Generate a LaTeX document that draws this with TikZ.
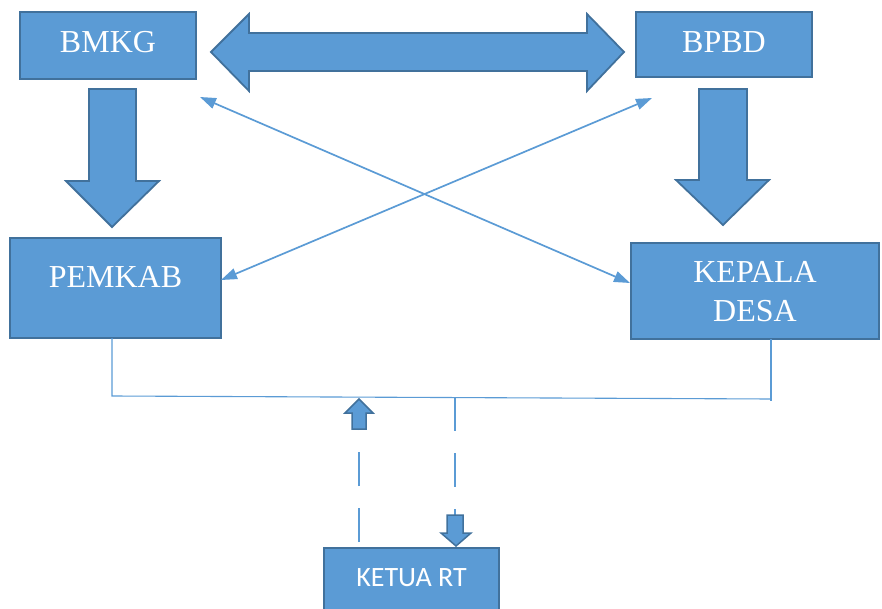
\documentclass[tikz,border=0pt]{standalone}
\usepackage{fontspec}
\setmainfont{Liberation Serif}
\newfontfamily\calib{Carlito}
\usetikzlibrary{arrows.meta}
\definecolor{bfill}{HTML}{5B9BD5}
\definecolor{bdraw}{HTML}{41719C}
\tikzset{
  box/.style={draw=bdraw, fill=bfill, line width=2pt, inner sep=0pt},
  lbl/.style={text=white, font=\fontsize{32}{38}\selectfont, inner sep=0pt, align=center},
  blk/.style={draw=bdraw, fill=bfill, line width=1.8pt, line join=miter},
  thin/.style={draw=bfill, line width=1.7pt, {Triangle[length=16pt,width=11pt]}-{Triangle[length=16pt,width=11pt]}},
  conn/.style={draw=bfill, line width=1.1pt},
  dashconn/.style={draw=bfill, line width=1.1pt, dash pattern=on 34pt off 22pt}
}
\begin{document}
\begin{tikzpicture}[x=1pt,y=-1pt]
\useasboundingbox (0,0) rectangle (882,609);
\clip (0,0) rectangle (882,609);
% boxes
\node[box, minimum width=176pt, minimum height=67pt] (bmkg) at (108,45.5) {};
\node[lbl] at (108,42) {BMKG};
\node[box, minimum width=176pt, minimum height=65pt] (bpbd) at (724,44.5) {};
\node[lbl] at (724,42) {BPBD};
\node[box, minimum width=211pt, minimum height=100pt] (pemkab) at (115.5,288) {};
\node[lbl] at (115.5,277) {PEMKAB};
\node[box, minimum width=248pt, minimum height=96pt] (kades) at (755,291) {};
\node[lbl] at (755,272) {KEPALA};
\node[lbl] at (755,311) {DESA};
\node[box, minimum width=175pt, minimum height=90pt] (ketua) at (411.5,593) {};
\node[text=white, inner sep=0pt, font=\calib\fontsize{28}{34}\selectfont] at (411.5,578) {KETUA RT};
% block arrows
\draw[blk] (211,52) -- (249,14) -- (249,33) -- (587,33) -- (587,14) -- (624,52) -- (587,91) -- (587,71) -- (249,71) -- (249,91) -- cycle;
\draw[blk] (89,89) -- (136,89) -- (136,181) -- (159,181) -- (112,227) -- (66,181) -- (89,181) -- cycle;
\draw[blk] (699,89) -- (747,89) -- (747,180) -- (769,180) -- (723,225) -- (676,180) -- (699,180) -- cycle;
% thin crossing arrows
\coordinate (a1) at (200,97);
\coordinate (a2) at (630,283);
\coordinate (b1) at (221,280);
\coordinate (b2) at (652,98);
\draw[thin] (a1) -- (a2);
\draw[thin] (b1) -- (b2);
% bus lines
\coordinate (p1) at (112,396);
\coordinate (k1) at (771,399);
\draw[conn] (112,338) -- (p1) -- (k1);
\draw[conn] (771,339) -- (771,401);
% dashed links
\draw[dashconn] (359,542) -- (359,429);
\draw[dashconn] (455,397) -- (455,515);
% small block arrows
\draw[blk, line width=1.5pt] (359,399) -- (373,413) -- (366,413) -- (366,429) -- (352,429) -- (352,413) -- (345,413) -- cycle;
\draw[blk, line width=1.5pt] (447,515) -- (463,515) -- (463,533) -- (471,533) -- (456,546) -- (441,533) -- (447,533) -- cycle;
\end{tikzpicture}
\end{document}
